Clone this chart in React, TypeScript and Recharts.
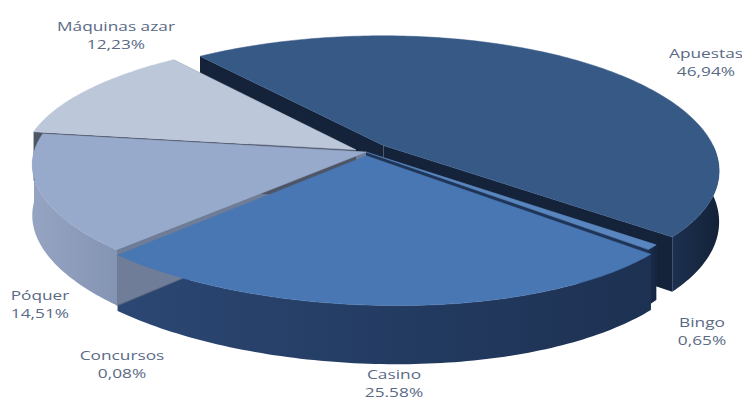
import { Cell, Pie, PieChart } from "recharts";

// Distribución del juego online por tipo (tarta 3D con perspectiva).
// Recharts no tiene tartas 3D: cada porción se dibuja con un `shape` propio
// a partir de los ángulos que calcula el Pie, proyectados en perspectiva.

const NAMES = ["Apuestas", "Bingo", "Casino", "Concursos", "Póquer", "Máquinas azar"];
const SHARES = [46.94, 0.65, 25.58, 0.08, 14.51, 12.23];
const SHARE_TEXT = ["46,94%", "0,65%", "25.58%", "0,08%", "14,51%", "12,23%"];

const data = NAMES.map((name, i) => ({ name, value: SHARES[i], text: SHARE_TEXT[i] }));

const TOP: Record<string, string> = {
  Apuestas: "#375986",
  Bingo: "#5a86bf",
  Casino: "#4877b3",
  Concursos: "#6d7c95",
  Póquer: "#98aacb",
  "Máquinas azar": "#bcc7da",
};
// lado exterior: [claro, oscuro] para el degradado horizontal
const SIDE: Record<string, [string, string]> = {
  Apuestas: ["#1d3050", "#132238"],
  Bingo: ["#1c2e4c", "#152540"],
  Casino: ["#2b4773", "#1d3152"],
  Concursos: ["#5f6c85", "#56627a"],
  Póquer: ["#95a4c1", "#8494b3"],
  "Máquinas azar": ["#a7b3c8", "#a7b3c8"],
};
const CUT: Record<string, string> = {
  Apuestas: "#142339",
  Bingo: "#1f3558",
  Casino: "#1f3558",
  Concursos: "#5b6780",
  Póquer: "#6f7d98",
  "Máquinas azar": "#4d5567",
};
// desplazamiento radial de cada porción (fracción del radio)
const EXPLODE: Record<string, number> = {
  Apuestas: 0.075,
  Bingo: 0,
  Casino: 0.03,
  Concursos: 0,
  Póquer: 0,
  "Máquinas azar": 0.035,
};
// posición de las etiquetas (centro, primera línea base)
const LABEL_AT: Record<string, [number, number]> = {
  Apuestas: [706, 58],
  Bingo: [702, 327],
  Casino: [394, 379],
  Concursos: [122, 360],
  Póquer: [40, 300],
  "Máquinas azar": [116, 31],
};

const W = 742;
const H = 400;
const CX = 366;
const CY = 152;
const R = 332;
const START = 127.6;
const TILT = 0.383;
const PERSP = 0.143;
const SHEAR = 25;
const DEPTH = 50;
const RAD = Math.PI / 180;

type Pt = [number, number];

function project(cx: number, cy: number, r: number, x: number, y: number, h: number): Pt {
  const w = 1 - PERSP * y;
  const shear = (SHEAR * y * (1 + y)) / 2;
  return [cx + (r * x + shear) / w, cy + (r * TILT * y + h * DEPTH) / w];
}

function arc(p: any, a0: number, a1: number, h: number, ox: number, oy: number): Pt[] {
  const n = Math.max(2, Math.ceil(Math.abs(a1 - a0)));
  const pts: Pt[] = [];
  for (let i = 0; i <= n; i++) {
    const a = (a0 + ((a1 - a0) * i) / n) * RAD;
    pts.push(project(p.cx, p.cy, p.outerRadius, ox + Math.cos(a), oy - Math.sin(a), h));
  }
  return pts;
}

const toPath = (pts: Pt[]) =>
  "M" + pts.map(([x, y]) => `${x.toFixed(2)},${y.toFixed(2)}`).join("L") + "Z";

function offsetOf(p: any, name: string): [number, number] {
  const e = EXPLODE[name] ?? 0;
  const mid = ((p.startAngle + p.endAngle) / 2) * RAD;
  return [e * Math.cos(mid), -e * Math.sin(mid)];
}

const nameOf = (p: any): string => p.payload?.name ?? p.name;
const gradId = (name: string) => "side-" + NAMES.indexOf(name);

function WallShape(p: any) {
  const name = nameOf(p);
  const [ox, oy] = offsetOf(p, name);
  const apexTop = project(p.cx, p.cy, p.outerRadius, ox, oy, 0);
  const apexBot = project(p.cx, p.cy, p.outerRadius, ox, oy, 1);
  const cuts = [p.startAngle, p.endAngle].map((a) => {
    const top = arc(p, a, a, 0, ox, oy)[0];
    const bot = arc(p, a, a, 1, ox, oy)[0];
    return toPath([apexTop, top, bot, apexBot]);
  });
  // solo la parte delantera del borde exterior (entre 0° y -180°) es visible
  const hi = Math.min(p.startAngle, 0);
  const lo = Math.max(p.endAngle, -180);
  const outer =
    hi > lo ? [...arc(p, hi, lo, 0, ox, oy), ...arc(p, lo, hi, 1, ox, oy)] : null;
  const [light, dark] = SIDE[name];
  return (
    <g>
      <defs>
        <linearGradient id={gradId(name)} x1="0" y1="0" x2="1" y2="0">
          <stop offset="0%" stopColor={light} />
          <stop offset="100%" stopColor={dark} />
        </linearGradient>
      </defs>
      {cuts.map((d, i) => (
        <path key={i} d={d} fill={CUT[name]} />
      ))}
      {outer && <path d={toPath(outer)} fill={`url(#${gradId(name)})`} />}
    </g>
  );
}

function TopShape(p: any) {
  const name = nameOf(p);
  const [ox, oy] = offsetOf(p, name);
  const pts = [
    project(p.cx, p.cy, p.outerRadius, ox, oy, 0),
    ...arc(p, p.startAngle, p.endAngle, 0, ox, oy),
  ];
  return <path d={toPath(pts)} fill={TOP[name]} stroke={TOP[name]} strokeWidth={0.5} />;
}

function SliceLabel(p: any) {
  const name = nameOf(p);
  const text = p.payload?.text ?? "";
  const [x, y] = LABEL_AT[name];
  return (
    <text
      transform={`translate(${x},${y}) scale(1.28,1)`}
      textAnchor="middle"
      fontFamily="'Open Sans', sans-serif"
      fontSize={13.5}
      fill="#5a6a85"
    >
      <tspan x={0} y={0}>
        {name}
      </tspan>
      <tspan x={0} y={18}>
        {text}
      </tspan>
    </text>
  );
}

export default function App() {
  return (
    <div style={{ position: "fixed", left: 0, top: 0, width: W, height: H, background: "#fff" }}>
      <PieChart width={W} height={H} margin={{ top: 0, right: 0, bottom: 0, left: 0 }}>
        <Pie
          data={data}
          dataKey="value"
          nameKey="name"
          cx={CX}
          cy={CY}
          outerRadius={R}
          startAngle={START}
          endAngle={START - 360}
          stroke="none"
          shape={WallShape}
          isAnimationActive={false}
        >
          {data.map((d) => (
            <Cell key={d.name} fill={SIDE[d.name][0]} />
          ))}
        </Pie>
        <Pie
          data={data}
          dataKey="value"
          nameKey="name"
          cx={CX}
          cy={CY}
          outerRadius={R}
          startAngle={START}
          endAngle={START - 360}
          stroke="none"
          shape={TopShape}
          label={SliceLabel}
          labelLine={false}
          isAnimationActive={false}
        >
          {data.map((d) => (
            <Cell key={d.name} fill={TOP[d.name]} />
          ))}
        </Pie>
      </PieChart>
    </div>
  );
}
